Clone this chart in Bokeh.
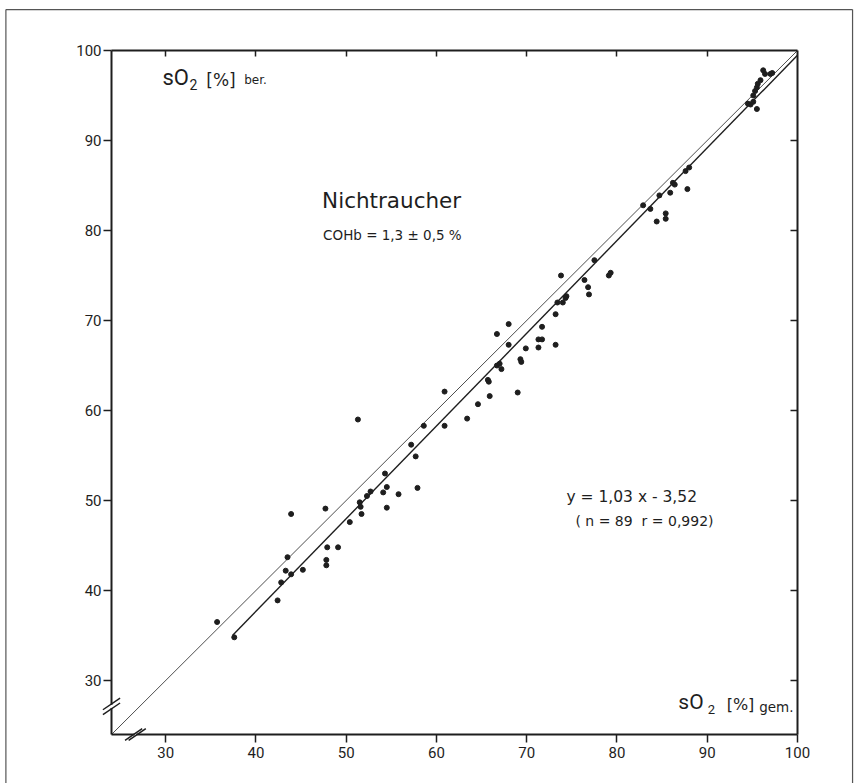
from bokeh.plotting import figure
from bokeh.models import Label, FixedTicker, LinearAxis, Range1d
from bokeh.embed import file_html
from bokeh.resources import INLINE

# ---------------- data ----------------
so2_gem = [35.7, 37.6, 42.4, 42.8, 43.3, 43.5, 43.9, 45.2, 43.9, 47.7,
           47.8, 47.8, 47.9, 49.1, 50.4, 51.3, 51.5, 51.6, 51.7, 52.3,
           52.7, 54.1, 54.3, 54.5, 54.5, 55.8, 57.2, 57.7, 57.9, 58.6,
           60.9, 60.9, 63.4, 64.6, 65.7, 65.8, 65.9, 66.7, 66.7, 67.0,
           67.2, 68.0, 68.0, 69.0, 69.3, 69.4, 69.9, 71.3, 71.7, 71.3,
           71.7, 73.2, 73.2, 73.4, 74.0, 74.3, 74.4, 76.9, 73.8, 77.5,
           76.4, 76.8, 79.1, 79.3, 82.9, 83.7, 84.4, 84.7, 85.4, 85.4,
           85.9, 86.2, 86.4, 87.6, 88.0, 87.8, 94.5, 94.8, 95.1, 95.5,
           95.1, 95.3, 95.5, 95.6, 95.9, 96.2, 96.4, 97.0, 97.2]
so2_ber = [36.5, 34.8, 38.9, 40.9, 42.2, 43.7, 41.8, 42.3, 48.5, 49.1,
           42.8, 43.4, 44.8, 44.8, 47.6, 59.0, 49.8, 49.3, 48.5, 50.5,
           51.0, 50.9, 53.0, 51.5, 49.2, 50.7, 56.2, 54.9, 51.4, 58.3,
           62.1, 58.3, 59.1, 60.7, 63.4, 63.2, 61.6, 68.5, 65.0, 65.2,
           64.6, 69.6, 67.3, 62.0, 65.7, 65.4, 66.9, 67.9, 67.9, 67.0,
           69.3, 70.7, 67.3, 72.0, 72.0, 72.5, 72.7, 72.9, 75.0, 76.7,
           74.5, 73.7, 75.0, 75.3, 82.8, 82.4, 81.0, 83.9, 81.9, 81.3,
           84.2, 85.3, 85.1, 86.6, 87.0, 84.6, 94.1, 94.0, 94.3, 93.5,
           95.0, 95.5, 95.9, 96.3, 96.7, 97.8, 97.4, 97.4, 97.5]

axis_min = 24
axis_max = 100
x_ticks = [30, 40, 50, 60, 70, 80, 90, 100]
y_ticks = [30, 40, 50, 60, 70, 80, 90, 100]
inner_ticks = [30, 40, 50, 60, 70, 80, 90]

identity_x = [24, 100]
reg_slope = 1.03
reg_intercept = -3.52
reg_x = [37.4, 100]

title_text = "Nichtraucher"
cohb_text = "COHb = 1,3 ± 0,5 %"
eq_text = "y = 1,03 x - 3,52"
stat_text = "( n = 89\u00a0 r = 0,992)"

TICKFONT = "Roboto"
SO_FONT = "Roboto"
TXTFONT = "DejaVu Sans"
INK = "#1e1e1e"

p = figure(width=858, height=783,
           x_range=Range1d(axis_min, axis_max), y_range=Range1d(axis_min, axis_max),
           output_backend="svg", toolbar_location=None,
           min_border_left=111, min_border_right=61,
           min_border_top=50, min_border_bottom=49)
p.outline_line_color = None
p.xgrid.grid_line_color = None
p.ygrid.grid_line_color = None
p.background_fill_color = "white"
p.border_fill_color = "white"


def style_axis(ax, ticks, tick_in, tick_out, show_labels, standoff=3):
    ax.ticker = FixedTicker(ticks=ticks)
    ax.axis_line_width = 2
    ax.axis_line_color = INK
    ax.major_tick_line_width = 1.5
    ax.major_tick_line_color = INK
    ax.major_tick_in = tick_in
    ax.major_tick_out = tick_out
    ax.minor_tick_line_color = None
    ax.major_label_standoff = standoff
    ax.major_label_text_font = TICKFONT
    ax.major_label_text_font_size = "15px"
    if show_labels:
        ax.major_label_text_color = INK
    else:
        ax.major_label_overrides = {t: "" for t in ticks}
        ax.major_label_text_color = None


style_axis(p.xaxis[0], x_ticks, 0, 8, True, 4)
style_axis(p.yaxis[0], y_ticks, 0, 8, True, 2)

top_axis = LinearAxis()
style_axis(top_axis, inner_ticks, 6, 0, False)
p.add_layout(top_axis, "above")

right_axis = LinearAxis()
style_axis(right_axis, inner_ticks, 7, 0, False)
p.add_layout(right_axis, "right")

# identity line and regression line
p.line(identity_x, identity_x, line_width=0.9, line_color="#3a3a3a")
reg_y = [reg_slope * v + reg_intercept for v in reg_x]
p.line(reg_x, reg_y, line_width=1.4, line_color=INK)

# points
p.scatter(so2_gem, so2_ber, size=5, color=INK)

# axis break marks (double slashes), drawn above the axes
gap_y = [26.95, 27.3]
p.segment(x0=[24], y0=[gap_y[0]], x1=[24], y1=[gap_y[1]],
          line_color="white", line_width=3, level="overlay")
gap_x = [26.55, 26.75]
p.segment(x0=[gap_x[0]], y0=[24], x1=[gap_x[1]], y1=[24],
          line_color="white", line_width=3, level="overlay")
p.segment(x0=[23.05, 23.05], y0=[26.2, 26.75], x1=[24.95, 24.95], y1=[27.5, 28.05],
          line_color=INK, line_width=1.5, level="overlay")
p.segment(x0=[25.5, 25.9], y0=[23.35, 23.35], x1=[27.4, 27.8], y1=[24.65, 24.65],
          line_color=INK, line_width=1.5, level="overlay")

# outer frame of the sheet
fl, fr, ft, fb = 12.3, 106.1, 104.55, 18.0
p.segment(x0=[fl, fl, fr], y0=[fb, ft, ft], x1=[fl, fr, fr], y1=[ft, ft, fb],
          line_color="#555555", line_width=1.2, level="overlay")


def lab(x, y, text, size, font):
    p.add_layout(Label(x=x, y=y, text=text, text_font=font,
                       text_font_size=size, text_color=INK,
                       text_baseline="middle", text_align="left"))


# y-axis title (top left)
lab(29.65, 96.98, "sO", "22px", SO_FONT)
lab(32.65, 96.22, "2", "14px", SO_FONT)
lab(34.5, 96.67, "[%]", "17px", TXTFONT)
lab(38.7, 96.72, "ber.", "12px", TXTFONT)

# x-axis title (bottom right)
lab(86.8, 27.56, "sO", "21px", SO_FONT)
lab(90.05, 26.78, "2", "13px", SO_FONT)
lab(92.15, 27.33, "[%]", "16px", TXTFONT)
lab(95.75, 27.11, "gem.", "13.5px", TXTFONT)

# annotations
lab(47.33, 83.3, title_text, "21.5px", TXTFONT)
lab(47.44, 79.48, cohb_text, "13.5px", TXTFONT)
lab(74.4, 50.37, eq_text, "15.5px", TXTFONT)
lab(75.4, 47.7, stat_text, "14px", TXTFONT)

open("out.html", "w").write(file_html(p, INLINE))
